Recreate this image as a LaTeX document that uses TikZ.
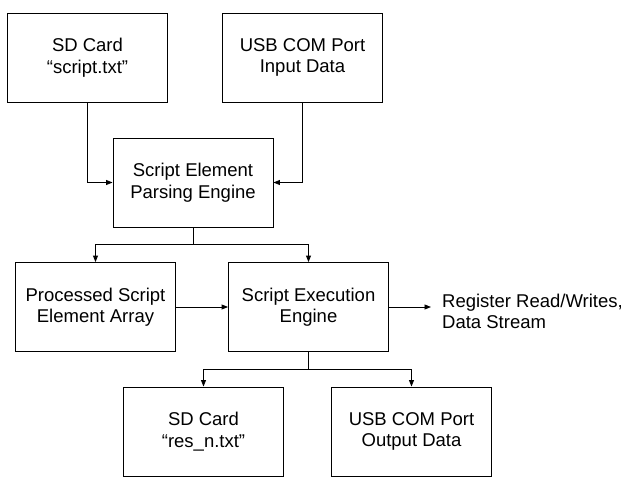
\documentclass[tikz,border=0pt]{standalone}
\usepackage{fontspec}
\setmainfont{Liberation Sans}
\usepackage{tikz}
\usetikzlibrary{positioning}
\usetikzlibrary{arrows.meta}

\begin{document}
\begin{tikzpicture}[x=1pt,y=-1pt,
  blk/.style={draw, line width=0.9pt, minimum width=160pt, minimum height=89pt,
    align=center, font=\fontsize{18.5}{21.5}\selectfont},
  conn/.style={-{Triangle[length=6.5pt,width=5pt]}, line width=0.9pt}]
\useasboundingbox (0,0) rectangle (637,495);
% inputs
\node[blk] (sdin) at (87.5,57.5) {SD Card\\“script.txt”};
\node[blk] (usbin) at (302.5,57.5) {USB COM Port\\Input Data};
% engines
\node[blk] (parse) at (193,182.5) {Script Element\\Parsing Engine};
\node[blk] (array) at (95.5,307) {Processed Script\\Element Array};
\node[blk] (exec) at (308.5,307) {Script Execution\\Engine};
% outputs
\node[blk] (sdout) at (203.5,431.5) {SD Card\\“res\_n.txt”};
\node[blk] (usbout) at (411.5,431.5) {USB COM Port\\Output Data};
\node[align=left, anchor=west, inner xsep=11pt, font=\fontsize{18.5}{21.5}\selectfont]
  (regs) at (431,311.5) {Register Read/Writes,\\Data Stream};
\coordinate (split1) at (193,244);
\coordinate (split2) at (308.5,369);
\draw[conn] (sdin) |- (parse);
\draw[conn] (usbin) |- (parse);
\draw[line width=0.9pt] (parse) -- (split1);
\draw[conn] (split1) -| (array);
\draw[conn] (split1) -| (exec);
\draw[conn] (array) -- (exec);
\draw[conn] (exec) -- (exec -| regs.west);
\draw[line width=0.9pt] (exec) -- (split2);
\draw[conn] (split2) -| (sdout);
\draw[conn] (split2) -| (usbout);
\end{tikzpicture}
\end{document}
